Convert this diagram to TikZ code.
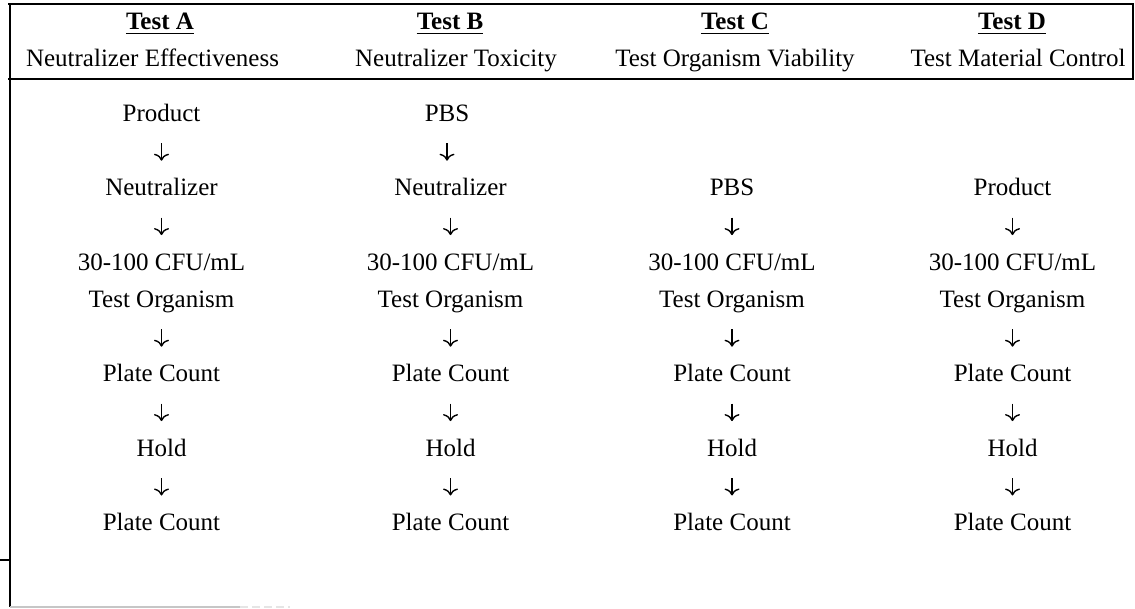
\documentclass[tikz,border=0pt]{standalone}
\usepackage{fontspec}
\setmainfont{Liberation Serif}
\usetikzlibrary{arrows.meta}
\begin{document}
\begin{tikzpicture}[x=1pt,y=-1pt,
  txt/.style={anchor=base, inner sep=0pt, font=\fontsize{25}{30}\selectfont, text height=17pt, text depth=5pt},
  hd/.style={anchor=base, inner sep=0pt, font=\fontsize{25}{30}\selectfont\bfseries},
  sub/.style={anchor=base, inner sep=0pt, font=\fontsize{25}{30}\selectfont},
  flow/.style={-{To[length=7pt,width=15pt]}, line width=1.4pt, shorten <=16.5pt, shorten >=18pt},
  rulel/.style={line width=2.2pt, line cap=rect},
  uline/.style={line width=1.5pt}]
\useasboundingbox (0,0) rectangle (1135,609);

% frame
\coordinate (tl) at (9.5,4);
\coordinate (tr) at (1133,4);
\coordinate (hl) at (9.5,79);
\coordinate (hr) at (1133,79);
\coordinate (bl) at (9.5,607);
\coordinate (bm) at (240,607);
\coordinate (be) at (290,607);
\coordinate (tk0) at (0,559.5);
\coordinate (tk1) at (9.5,559.5);
\draw[rulel] (tl) -- (tr);
\draw[rulel, line width=2.8pt] (hl) -- (hr);
\draw[line width=2pt] (tl) -- (bl);
\draw[line width=2pt] (tr) -- (hr);
\draw[line width=2pt] (tk0) -- (tk1);
\draw[line width=1.5pt, gray!45] (bl) -- (bm);
\draw[line width=1.2pt, gray!20, dash pattern=on 8pt off 4pt] (bm) -- (be);

% headers
\node[hd] (ha) at (160,30) {Test A};
\node[hd] (hb) at (450,30) {Test B};
\node[hd] (hc) at (735,30) {Test C};
\node[hd] (hd) at (1012,30) {Test D};
\foreach \h in {ha,hb,hc,hd}
  \draw[uline] ([yshift=-3.4pt]\h.base west) -- ([yshift=-3.4pt]\h.base east);
\node[sub] (sa) at (152.5,66.7) {Neutralizer Effectiveness};
\node[sub] (sb) at (456,66.7) {Neutralizer Toxicity};
\node[sub] (sc) at (735,66.7) {Test Organism Viability};
\node[sub] (sd) at (1018,66.7) {Test Material Control};

% top rows
\node[txt] (a0) at (161.5,121.5) {Product};
\node[txt] (a2) at (161.5,195.9) {Neutralizer};
\node[txt] (b0) at (447,121.5) {PBS};
\node[txt] (b2) at (450.5,195.9) {Neutralizer};
\node[txt] (c2) at (732,195.9) {PBS};
\node[txt] (d2) at (1012.5,195.9) {Product};

% common rows
\foreach \c/\x in {a/161.5,b/450.5,c/732,d/1012.5}{
  \node[txt] (\c4) at (\x,270.3) {30-100 CFU/mL};
  \node[txt] (\c5) at (\x,307.5) {Test Organism};
  \node[txt] (\c7) at (\x,381.9) {Plate Count};
  \node[txt] (\c9) at (\x,456.3) {Hold};
  \node[txt] (\c11) at (\x,530.7) {Plate Count};
}

% connectors
\draw[flow] (a0) -- (a2);
\draw[flow] (b0.south) -- (b0.south |- b2.north);
\foreach \c in {a,b,c,d}{
  \draw[flow] (\c2) -- (\c4);
  \draw[flow] (\c5) -- (\c7);
  \draw[flow] (\c7) -- (\c9);
  \draw[flow] (\c9) -- (\c11);
}
\end{tikzpicture}
\end{document}
